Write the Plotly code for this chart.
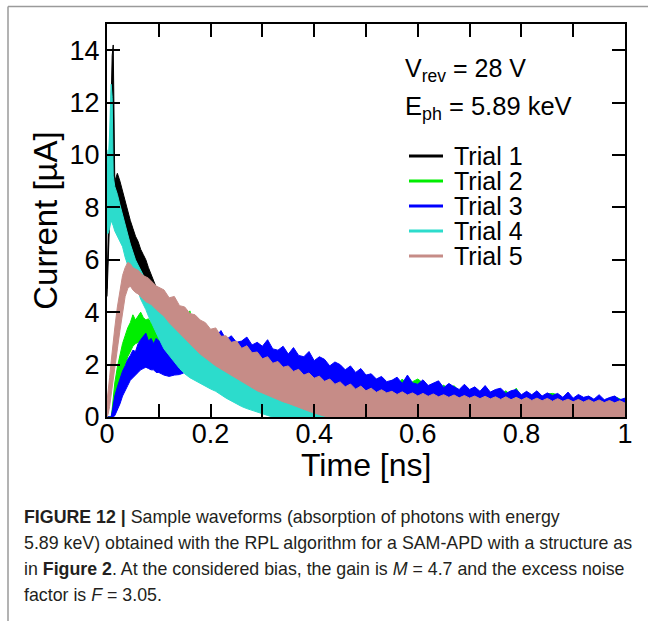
import plotly.graph_objects as go

# ---------------- time grid (ns) ----------------
T_A = [0, 0.002, 0.005, 0.008, 0.01, 0.012, 0.015, 0.02, 0.025, 0.03, 0.035, 0.04,
       0.045, 0.05, 0.055, 0.06, 0.065, 0.07, 0.075, 0.08, 0.085, 0.09, 0.095, 0.1]
T_B = [0.11, 0.12, 0.13, 0.14, 0.15, 0.16, 0.17, 0.18, 0.19, 0.20,
       0.21, 0.22, 0.23, 0.24, 0.25, 0.26, 0.27, 0.28, 0.29, 0.30,
       0.31, 0.32, 0.33, 0.34, 0.35, 0.36, 0.37, 0.38, 0.39, 0.40,
       0.41, 0.42, 0.43, 0.44, 0.45, 0.46, 0.47, 0.48, 0.49, 0.50]
T_C = [0.51, 0.52, 0.53, 0.54, 0.55, 0.56, 0.57, 0.58, 0.59, 0.60,
       0.61, 0.62, 0.63, 0.64, 0.65, 0.66, 0.67, 0.68, 0.69, 0.70,
       0.71, 0.72, 0.73, 0.74, 0.75, 0.76, 0.77, 0.78, 0.79, 0.80,
       0.81, 0.82, 0.83, 0.84, 0.85, 0.86, 0.87, 0.88, 0.89, 0.90,
       0.91, 0.92, 0.93, 0.94, 0.95, 0.96, 0.97, 0.98, 0.99, 1.00]
time_ns = T_A + T_B + T_C

ZEROS_50 = [0, 0, 0, 0, 0, 0, 0, 0, 0, 0,
            0, 0, 0, 0, 0, 0, 0, 0, 0, 0,
            0, 0, 0, 0, 0, 0, 0, 0, 0, 0,
            0, 0, 0, 0, 0, 0, 0, 0, 0, 0,
            0, 0, 0, 0, 0, 0, 0, 0, 0, 0]

# ---------------- noise-band envelopes (upper / lower), current in uA ----------------
# Trial 1 (black)
trial1_upper = ([4.9, 7.0, 9.8, 12.0, 13.8, 14.2, 9.0, 9.3, 9.0, 8.6, 8.2, 7.9,
                 7.5, 7.2, 6.9, 6.7, 6.4, 6.2, 6.0, 5.7, 5.45, 5.2, 4.9, 4.7]
                + [3.85, 3.6, 3.4, 3.2, 3.0, 2.8, 2.6, 2.4, 2.25, 2.1,
                   1.95, 1.8, 1.7, 1.58, 1.46, 1.35, 1.24, 1.12, 1.0, 0.9,
                   0.8, 0.7, 0.62, 0.55, 0.48, 0.4, 0.34, 0.28, 0.22, 0.18,
                   0.15, 0.14, 0.12, 0.1, 0.1, 0.08, 0.08, 0.06, 0.06, 0.05]
                + [0.05, 0.03, 0.06, 0.02, 0.05, 0.04, 0.03, 0.05, 0.02, 0.04,
                   0.05, 0.03, 0.06, 0.02, 0.05, 0.04, 0.03, 0.05, 0.02, 0.04,
                   0.05, 0.03, 0.06, 0.02, 0.05, 0.04, 0.03, 0.05, 0.02, 0.04,
                   0.05, 0.03, 0.06, 0.02, 0.05, 0.04, 0.03, 0.05, 0.02, 0.04,
                   0.05, 0.03, 0.06, 0.02, 0.05, 0.04, 0.03, 0.05, 0.02, 0.04])
trial1_lower = ([4.6, 5.5, 7.5, 8.0, 8.0, 8.2, 8.2, 8.3, 8.0, 7.6, 7.2, 6.9,
                 6.6, 6.3, 6.0, 5.8, 5.6, 5.4, 5.2, 5.0, 4.8, 4.6, 4.4, 4.2]
                + [2.9, 2.7, 2.5, 2.3, 2.1, 1.9, 1.7, 1.55, 1.4, 1.25,
                   1.1, 1.0, 0.85, 0.75, 0.65, 0.55, 0.45, 0.35, 0.3, 0.22,
                   0.15, 0.1, 0.05, 0, 0, 0, 0, 0, 0, 0,
                   0, 0, 0, 0, 0, 0, 0, 0, 0, 0]
                + ZEROS_50)

# Trial 2 (green)
trial2_upper = ([0, 0, 0, 0, 0.3, 0.8, 1.3, 1.9, 2.4, 2.8, 3.1, 3.4,
                 3.6, 3.9, 3.7, 3.85, 4.0, 3.8, 3.7, 3.75, 3.6, 3.65, 3.5, 3.5]
                + [3.5, 3.3, 3.4, 3.2, 3.3, 4.05, 3.1, 3.0, 2.9, 2.9,
                   2.8, 2.85, 2.7, 2.75, 2.6, 2.65, 2.5, 2.55, 2.4, 2.45,
                   2.3, 2.35, 2.2, 2.25, 2.1, 2.15, 2.0, 2.05, 1.9, 1.95,
                   1.8, 1.85, 1.7, 1.75, 1.6, 1.65, 1.55, 1.6, 1.5, 1.55]
                + [1.5, 1.3, 1.45, 1.25, 1.4, 1.22, 1.45, 1.2, 1.35, 1.45,
                   1.3, 1.1, 1.28, 1.05, 1.22, 1.02, 1.2, 0.98, 1.15, 0.92,
                   1.1, 0.9, 1.05, 0.88, 1.02, 0.85, 1.0, 0.82, 1.1, 0.78,
                   0.95, 0.78, 0.9, 0.75, 0.88, 0.9, 0.85, 0.7, 0.82, 0.68,
                   0.8, 0.66, 0.78, 0.64, 0.75, 0.62, 0.72, 0.78, 0.7, 0.6])
trial2_lower = ([0, 0, 0, 0, 0, 0.1, 0.4, 0.9, 1.3, 1.7, 2.0, 2.3,
                 2.5, 2.7, 2.8, 2.85, 2.9, 2.85, 2.8, 2.75, 2.7, 2.65, 2.6, 2.5]
                + [1.75, 1.7, 1.75, 1.77, 1.85, 1.87, 1.9, 1.93, 1.95, 1.95,
                   1.95, 1.95, 1.93, 1.9, 1.87, 1.85, 1.83, 1.8, 1.75, 1.73,
                   1.7, 1.65, 1.6, 1.57, 1.53, 1.5, 1.45, 1.4, 1.35, 1.3,
                   1.25, 1.2, 1.17, 1.15, 1.12, 1.1, 1.07, 1.05, 1.03, 1.0]
                + [0.72, 0.71, 0.69, 0.68, 0.67, 0.65, 0.64, 0.63, 0.61, 0.6,
                   0.59, 0.57, 0.56, 0.55, 0.53, 0.52, 0.51, 0.49, 0.48, 0.47,
                   0.46, 0.45, 0.43, 0.42, 0.41, 0.4, 0.39, 0.38, 0.37, 0.36,
                   0.35, 0.34, 0.33, 0.32, 0.31, 0.3, 0.29, 0.28, 0.27, 0.27,
                   0.26, 0.25, 0.25, 0.24, 0.23, 0.23, 0.22, 0.22, 0.21, 0.21])

# Trial 3 (blue)
trial3_upper = ([0, 0, 0, 0, 0.2, 0.5, 0.8, 1.15, 1.45, 1.75, 1.95, 2.2,
                 2.35, 2.55, 2.5, 2.8, 2.95, 3.1, 3.2, 2.9, 3.0, 2.8, 3.0, 2.9]
                + [3.0, 3.1, 2.9, 3.0, 3.0, 3.1, 2.9, 3.0, 3.1, 3.0,
                   3.05, 3.3, 2.95, 3.1, 2.85, 2.9, 3.05, 2.75, 2.85, 2.7,
                   2.95, 2.6, 2.55, 2.7, 2.4, 2.65, 2.35, 2.3, 2.5, 2.15,
                   2.3, 2.2, 1.95, 2.1, 2.0, 1.8, 1.95, 1.7, 1.85, 1.6]
                + [1.65, 1.45, 1.55, 1.35, 1.4, 1.52, 1.28, 1.6, 1.3, 1.25,
                   1.42, 1.2, 1.3, 1.38, 1.12, 1.28, 1.15, 1.05, 1.25, 1.05,
                   1.15, 0.98, 1.2, 0.95, 1.05, 1.1, 0.9, 1.0, 1.05, 0.85,
                   0.98, 0.85, 1.0, 0.8, 0.92, 0.82, 0.9, 0.75, 0.95, 0.72,
                   0.86, 0.75, 0.8, 0.68, 0.85, 0.66, 0.74, 0.8, 0.66, 0.72])
trial3_lower = ([0, 0, 0, 0, 0, 0, 0.05, 0.25, 0.5, 0.8, 1.0, 1.2,
                 1.4, 1.5, 1.6, 1.7, 1.8, 1.85, 1.9, 1.85, 1.8, 1.8, 1.7, 1.7]
                + [1.6, 1.55, 1.6, 1.62, 1.7, 1.72, 1.75, 1.78, 1.8, 1.8,
                   1.8, 1.8, 1.78, 1.75, 1.72, 1.7, 1.68, 1.65, 1.6, 1.58,
                   1.55, 1.5, 1.45, 1.42, 1.38, 1.35, 1.3, 1.25, 1.2, 1.15,
                   1.1, 1.05, 1.02, 1.0, 0.97, 0.95, 0.92, 0.9, 0.88, 0.85]
                + [0.75, 0.74, 0.72, 0.71, 0.7, 0.68, 0.67, 0.66, 0.64, 0.63,
                   0.62, 0.6, 0.59, 0.58, 0.56, 0.55, 0.54, 0.52, 0.51, 0.5,
                   0.49, 0.48, 0.46, 0.45, 0.44, 0.43, 0.42, 0.41, 0.4, 0.39,
                   0.38, 0.37, 0.36, 0.35, 0.34, 0.33, 0.32, 0.31, 0.3, 0.3,
                   0.29, 0.28, 0.28, 0.27, 0.26, 0.26, 0.25, 0.25, 0.24, 0.24])

# Trial 4 (turquoise)
trial4_upper = ([10.2, 9.6, 10.8, 12.7, 12.2, 9.2, 8.8, 8.5, 8.1, 7.7, 7.3, 6.9,
                 6.6, 6.3, 6.0, 5.8, 5.6, 5.4, 5.2, 5.0, 4.8, 4.6, 4.45, 4.3]
                + [4.0, 3.65, 3.55, 3.25, 3.15, 2.85, 2.75, 2.45, 2.4, 2.15,
                   2.1, 1.88, 1.84, 1.64, 1.6, 1.42, 1.38, 1.18, 1.14, 0.96,
                   0.94, 0.76, 0.75, 0.6, 0.6, 0.44, 0.44, 0.3, 0.32, 0.2,
                   0.24, 0.14, 0.19, 0.1, 0.16, 0.07, 0.13, 0.05, 0.1, 0.04]
                + [0.06, 0.02, 0.05, 0.03, 0.06, 0.02, 0.04, 0.05, 0.02, 0.05,
                   0.06, 0.02, 0.05, 0.03, 0.06, 0.02, 0.04, 0.05, 0.02, 0.05,
                   0.06, 0.02, 0.05, 0.03, 0.06, 0.02, 0.04, 0.05, 0.02, 0.05,
                   0.06, 0.02, 0.05, 0.03, 0.06, 0.02, 0.04, 0.05, 0.02, 0.05,
                   0.06, 0.02, 0.05, 0.03, 0.06, 0.02, 0.04, 0.05, 0.02, 0.05])
trial4_lower = ([7.0, 7.0, 7.2, 7.5, 7.4, 7.3, 7.1, 6.9, 6.7, 6.5, 6.1, 5.8,
                 5.5, 5.3, 5.0, 4.8, 4.5, 4.3, 4.1, 3.85, 3.6, 3.4, 3.2, 3.0]
                + [2.6, 2.35, 2.1, 1.85, 1.65, 1.5, 1.38, 1.27, 1.17, 1.07,
                   0.98, 0.85, 0.72, 0.6, 0.5, 0.4, 0.32, 0.25, 0.18, 0.12,
                   0.06, 0, 0, 0, 0, 0, 0, 0, 0, 0,
                   0, 0, 0, 0, 0, 0, 0, 0, 0, 0]
                + ZEROS_50)

# Trial 5 (rose)
trial5_upper = ([0.6, 0.9, 1.5, 2.1, 2.5, 2.9, 3.4, 4.2, 4.9, 5.4, 5.7, 5.9,
                 5.85, 5.7, 5.65, 5.6, 5.5, 5.4, 5.35, 5.3, 5.2, 5.1, 5.0, 4.95]
                + [4.85, 4.55, 4.6, 4.25, 4.2, 3.95, 3.9, 3.7, 3.6, 3.35,
                   3.4, 3.08, 3.1, 2.85, 2.9, 2.62, 2.72, 2.45, 2.48, 2.22,
                   2.3, 2.05, 2.12, 1.9, 1.95, 1.74, 1.82, 1.6, 1.68, 1.48,
                   1.56, 1.36, 1.45, 1.25, 1.34, 1.15, 1.26, 1.06, 1.18, 1.0]
                + [1.1, 0.94, 1.04, 0.92, 0.98, 0.86, 0.96, 0.84, 0.92, 0.8,
                   0.9, 0.79, 0.88, 0.77, 0.85, 0.75, 0.84, 0.73, 0.82, 0.72,
                   0.8, 0.7, 0.79, 0.69, 0.77, 0.67, 0.77, 0.66, 0.75, 0.65,
                   0.74, 0.63, 0.72, 0.62, 0.71, 0.6, 0.7, 0.6, 0.68, 0.58,
                   0.67, 0.57, 0.66, 0.56, 0.65, 0.55, 0.63, 0.54, 0.62, 0.53])
trial5_lower = ([0.0, 0.1, 0.4, 0.8, 1.1, 1.4, 1.8, 2.6, 3.3, 4.0, 4.6, 4.9,
                 5.0, 4.85, 4.75, 4.7, 4.6, 4.5, 4.4, 4.35, 4.3, 4.2, 4.1, 4.0]
                + [3.85, 3.6, 3.4, 3.2, 3.0, 2.8, 2.6, 2.4, 2.25, 2.1,
                   1.95, 1.82, 1.7, 1.58, 1.46, 1.35, 1.24, 1.12, 1.0, 0.9,
                   0.82, 0.74, 0.66, 0.58, 0.52, 0.45, 0.38, 0.3, 0.22, 0.15,
                   0.08, 0.03, 0, 0, 0, 0, 0, 0, 0, 0]
                + ZEROS_50)

trial_names = ["Trial 1", "Trial 2", "Trial 3", "Trial 4", "Trial 5"]
trial_colors = ["#000000", "#00ee00", "#0000ff", "#2cdccc", "#c68c87"]
uppers = [trial1_upper, trial2_upper, trial3_upper, trial4_upper, trial5_upper]
lowers = [trial1_lower, trial2_lower, trial3_lower, trial4_lower, trial5_lower]

x_tickvals = [0, 0.2, 0.4, 0.6, 0.8, 1.0]
x_ticktext = ["0", "0.2", "0.4", "0.6", "0.8", "1"]
y_tickvals = [0, 2, 4, 6, 8, 10, 12, 14]
y_ticktext = ["0", "2", "4", "6", "8", "10", "12", "14"]

fig = go.Figure()
for name, col, up, lo in zip(trial_names, trial_colors, uppers, lowers):
    assert len(up) == len(time_ns) and len(lo) == len(time_ns)
    fig.add_trace(go.Scatter(
        x=time_ns + time_ns[::-1], y=up + lo[::-1],
        mode="lines", fill="toself", fillcolor=col,
        line=dict(color=col, width=1), name=name,
        showlegend=False, hoverinfo="skip"))

# geometry helpers (plot area in pixels: x 107..625, y 24..417)
L, R, TOP, BOT = 107, 625, 24, 417
def px(xp):
    return (xp - L) / (R - L)
def py(yp):
    return (BOT - yp) / (BOT - TOP)

FONT = "Liberation Sans, Arial, sans-serif"

fig.update_layout(
    width=651, height=621,
    margin=dict(l=L, r=651 - R, t=TOP, b=621 - BOT),
    paper_bgcolor="white", plot_bgcolor="white",
    font=dict(family=FONT, color="black"),
    xaxis=dict(range=[0, 1], tickvals=x_tickvals, ticktext=x_ticktext,
               ticks="inside", ticklen=13, tickwidth=2, tickcolor="black",
               minor=dict(dtick=0.1, tick0=0, ticks="inside", ticklen=13,
                          tickwidth=2, tickcolor="black", showgrid=False),
               showline=True, linewidth=2, linecolor="black", mirror="ticks",
               showgrid=False, zeroline=False, ticklabelstandoff=-8,
               tickfont=dict(size=27, family=FONT, color="black")),
    yaxis=dict(range=[0, 15], tickvals=y_tickvals, ticktext=y_ticktext,
               ticks="inside", ticklen=13, tickwidth=2, tickcolor="black",
               showline=True, linewidth=2, linecolor="black", mirror="ticks",
               showgrid=False, zeroline=False,
               tickfont=dict(size=27, family=FONT, color="black"),
               title=dict(text="Current [µA]", font=dict(size=33, family=FONT, color="black"),
                          standoff=2)),
)

# x-axis title placed as text below the tick labels
fig.add_annotation(x=0.5, y=py(465), xref="paper", yref="paper",
                   text="Time [ns]", showarrow=False,
                   xanchor="center", yanchor="middle",
                   font=dict(size=32, family=FONT, color="black"))

# annotation text block
fig.add_annotation(x=px(403), y=py(70), xref="paper", yref="paper",
                   text="V<sub>rev</sub> = 28 V", showarrow=False,
                   xanchor="left", yanchor="middle",
                   font=dict(size=25, family=FONT, color="black"))
fig.add_annotation(x=px(403), y=py(108), xref="paper", yref="paper",
                   text="E<sub>ph</sub> = 5.89 keV", showarrow=False,
                   xanchor="left", yanchor="middle",
                   font=dict(size=25.5, family=FONT, color="black"))

# hand-built legend
legend_y = [156, 181, 206, 231, 256]
for name, col, ly in zip(trial_names, trial_colors, legend_y):
    fig.add_shape(type="line", xref="paper", yref="paper",
                  x0=px(409), x1=px(443), y0=py(ly), y1=py(ly),
                  line=dict(color=col, width=3))
    fig.add_annotation(x=px(453), y=py(ly), xref="paper", yref="paper",
                       text=name, showarrow=False, xanchor="left", yanchor="middle",
                       height=24, valign="middle", borderpad=0,
                       font=dict(size=25, family=FONT, color="black"))

# outer grey frame
fig.add_shape(type="line", xref="paper", yref="paper",
              x0=px(8), x1=px(648), y0=py(6.5), y1=py(6.5),
              line=dict(color="#9a9a9a", width=1.5))
fig.add_shape(type="line", xref="paper", yref="paper",
              x0=px(8), x1=px(8), y0=py(6.5), y1=py(621),
              line=dict(color="#9a9a9a", width=1.5))

# caption
caption_lines = [
    "<b>FIGURE 12 |</b> Sample waveforms (absorption of photons with energy",
    "5.89 keV) obtained with the RPL algorithm for a SAM-APD with a structure as",
    "in <b>Figure 2</b>. At the considered bias, the gain is <i>M</i> = 4.7 and the excess noise",
    "factor is <i>F</i> = 3.05.",
]
caption_y = [517, 543, 569, 595]
for txt, cy in zip(caption_lines, caption_y):
    fig.add_annotation(x=px(22), y=py(cy), xref="paper", yref="paper",
                       text=txt, showarrow=False, xanchor="left", yanchor="middle",
                       font=dict(size=17.8, family=FONT, color="#231f20"))

fig.write_html("out.html")
